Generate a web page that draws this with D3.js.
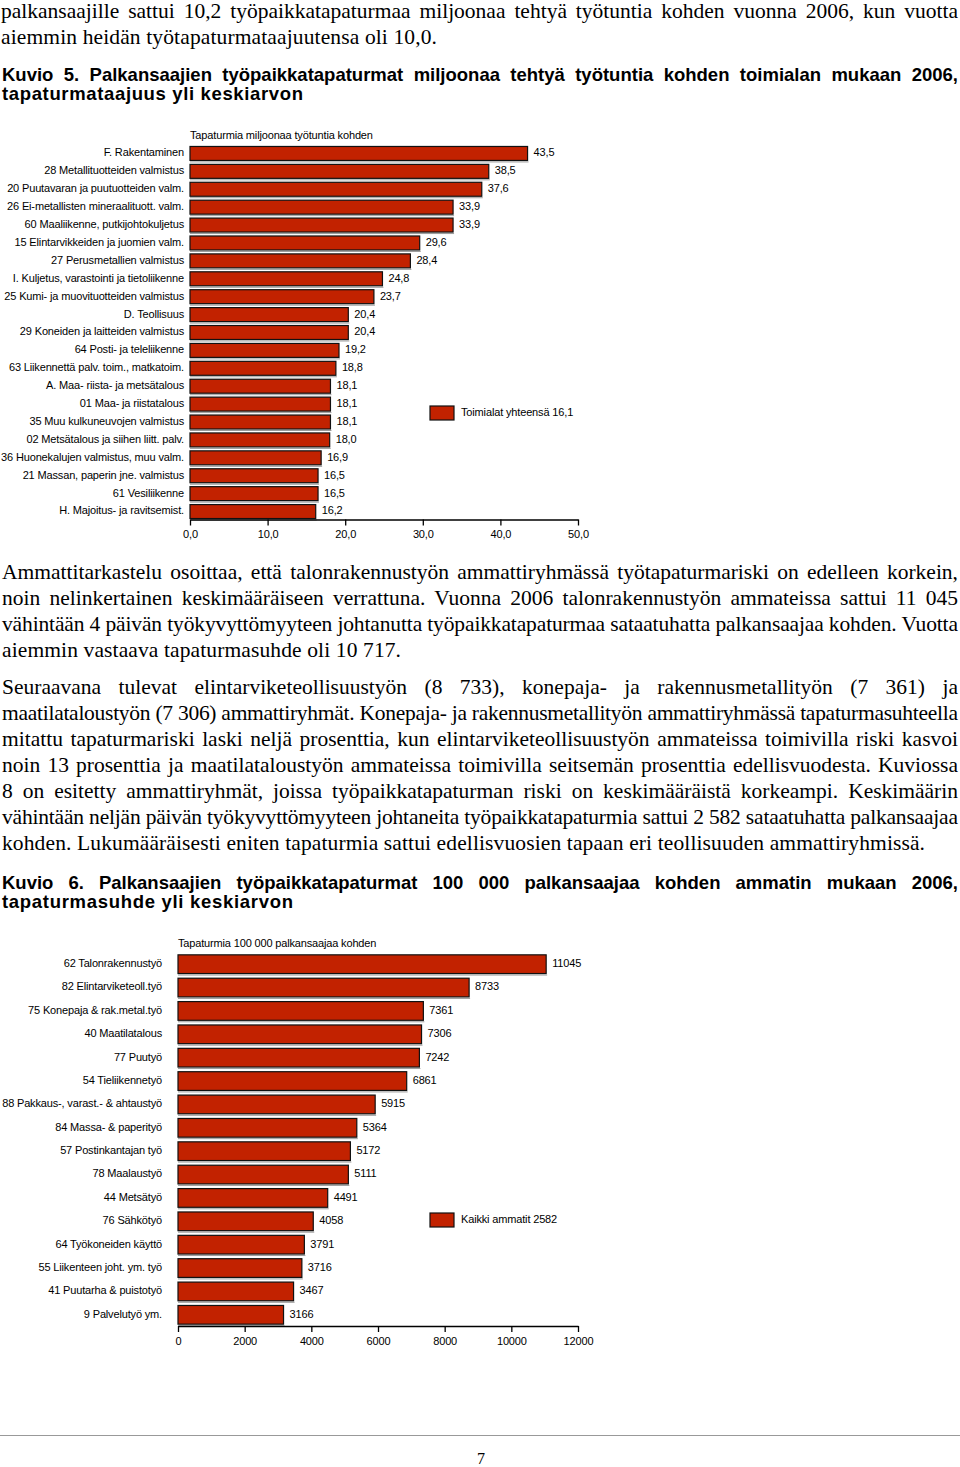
<!DOCTYPE html>
<html><head><meta charset="utf-8">
<script src="https://cdn.jsdelivr.net/npm/d3@7"></script>
<style>html,body{margin:0;padding:0;background:#fff;}svg{display:block;}</style>
</head><body>
<script>
// ---------- DATA ----------
const para1 = [
  "palkansaajille sattui 10,2 työpaikkatapaturmaa miljoonaa tehtyä työtuntia kohden vuonna 2006, kun vuotta",
  "aiemmin heidän työtapaturmataajuutensa oli 10,0."
];
const heading1 = [
  "Kuvio 5. Palkansaajien työpaikkatapaturmat miljoonaa tehtyä työtuntia kohden toimialan mukaan 2006,",
  "tapaturmataajuus yli keskiarvon"
];
const para2 = [
  "Ammattitarkastelu osoittaa, että talonrakennustyön ammattiryhmässä työtapaturmariski on edelleen korkein,",
  "noin nelinkertainen keskimääräiseen verrattuna. Vuonna 2006 talonrakennustyön ammateissa sattui 11 045",
  "vähintään 4 päivän työkyvyttömyyteen johtanutta työpaikkatapaturmaa sataatuhatta palkansaajaa kohden. Vuotta",
  "aiemmin vastaava tapaturmasuhde oli 10 717."
];
const para3 = [
  "Seuraavana tulevat elintarviketeollisuustyön (8 733), konepaja- ja rakennusmetallityön (7 361) ja",
  "maatilataloustyön (7 306) ammattiryhmät. Konepaja- ja rakennusmetallityön ammattiryhmässä tapaturmasuhteella",
  "mitattu tapaturmariski laski neljä prosenttia, kun elintarviketeollisuustyön ammateissa toimivilla riski kasvoi",
  "noin 13 prosenttia ja maatilataloustyön ammateissa toimivilla seitsemän prosenttia edellisvuodesta. Kuviossa",
  "8 on esitetty ammattiryhmät, joissa työpaikkatapaturman riski on keskimääräistä korkeampi. Keskimäärin",
  "vähintään neljän päivän työkyvyttömyyteen johtaneita työpaikkatapaturmia sattui 2 582 sataatuhatta palkansaajaa",
  "kohden. Lukumääräisesti eniten tapaturmia sattui edellisvuosien tapaan eri teollisuuden ammattiryhmissä."
];
const heading2 = [
  "Kuvio 6. Palkansaajien työpaikkatapaturmat 100 000 palkansaajaa kohden ammatin mukaan 2006,",
  "tapaturmasuhde yli keskiarvon"
];
const pageNumber = "7";

const title1 = "Tapaturmia miljoonaa työtuntia kohden";
const cats1 = ["F. Rakentaminen","28 Metallituotteiden valmistus","20 Puutavaran ja puutuotteiden valm.",
  "26 Ei-metallisten mineraalituott. valm.","60 Maaliikenne, putkijohtokuljetus","15 Elintarvikkeiden ja juomien valm.",
  "27 Perusmetallien valmistus","I. Kuljetus, varastointi ja tietoliikenne","25 Kumi- ja muovituotteiden valmistus",
  "D. Teollisuus","29 Koneiden ja laitteiden valmistus","64 Posti- ja teleliikenne","63 Liikennettä palv. toim., matkatoim.",
  "A. Maa- riista- ja metsätalous","01 Maa- ja riistatalous","35 Muu kulkuneuvojen valmistus",
  "02 Metsätalous ja siihen liitt. palv.","36 Huonekalujen valmistus, muu valm.","21 Massan, paperin jne. valmistus",
  "61 Vesiliikenne","H. Majoitus- ja ravitsemist."];
const vals1 = [43.5,38.5,37.6,33.9,33.9,29.6,28.4,24.8,23.7,20.4,20.4,19.2,18.8,18.1,18.1,18.1,18.0,16.9,16.5,16.5,16.2];
const ticks1 = [0,10,20,30,40,50];
const legend1 = "Toimialat yhteensä 16,1";

const title2 = "Tapaturmia 100 000 palkansaajaa kohden";
const cats2 = ["62 Talonrakennustyö","82 Elintarviketeoll.työ","75 Konepaja & rak.metal.työ","40 Maatilatalous",
  "77 Puutyö","54 Tieliikennetyö","88 Pakkaus-, varast.- & ahtaustyö","84 Massa- & paperityö","57 Postinkantajan työ",
  "78 Maalaustyö","44 Metsätyö","76 Sähkötyö","64 Työkoneiden käyttö","55 Liikenteen joht. ym. työ",
  "41 Puutarha & puistotyö","9 Palvelutyö ym."];
const vals2 = [11045,8733,7361,7306,7242,6861,5915,5364,5172,5111,4491,4058,3791,3716,3467,3166];
const ticks2 = [0,2000,4000,6000,8000,10000,12000];
const legend2 = "Kaikki ammatit 2582";

// ---------- RENDER ----------
const svg = d3.select("body").append("svg").attr("width",960).attr("height",1467);
const fiLocale = d3.formatLocale({decimal:",", thousands:"", grouping:[3], currency:["","€"]});
const fmt1 = fiLocale.format(".1f");
const fmt2 = fiLocale.format("d");

function fitText(t, width, justify){
  const node = t.node();
  const str = node.textContent;
  const L = node.getComputedTextLength();
  const spaces = (str.match(/ /g)||[]).length;
  if (justify && L < width && spaces>0){
    t.attr("word-spacing", (width-L)/spaces);
  } else {
    t.attr("letter-spacing", (width-L)/Math.max(1,str.length-1));
  }
}

function drawLines(lines, x, y0, lh, font, size, weight, lastWidth, justifyAll){
  lines.forEach((s,i)=>{
    const t = svg.append("text").attr("x",x).attr("y",y0+i*lh)
      .attr("font-family",font).attr("font-size",size).attr("font-weight",weight)
      .attr("fill","#000").text(s);
    const last = i===lines.length-1;
    if (!last || justifyAll) fitText(t, 958-x, true);
    else fitText(t, lastWidth, false);
  });
}

const SERIF = "'Liberation Serif','Times New Roman',serif";
const SANS = "'Liberation Sans',Arial,sans-serif";
const BODY = 21.5;

drawLines(para1, 1, 18, 26, SERIF, BODY, "normal", 436);
drawLines(heading1, 2, 81, 19, SANS, 18.5, "bold", 301);
drawLines(para2, 2, 579, 26, SERIF, BODY, "normal", 399);
drawLines(para3, 2, 694, 26, SERIF, BODY, "normal", 923);
drawLines(heading2, 2, 889, 19, SANS, 18.5, "bold", 291);

const RED = "#c22200";

function barChart(cfg){
  const g = svg.append("g");
  const x = d3.scaleLinear().domain([cfg.ticks[0], cfg.ticks[cfg.ticks.length-1]]).range([cfg.x0, cfg.x1]);
  const y = d3.scaleBand().domain(cfg.cats).range([cfg.top, cfg.bottom]).paddingInner(cfg.pad).paddingOuter(cfg.pad/2);
  const bh = y.bandwidth();
  const FS = cfg.fs;

  const probe = g.append("text").attr("font-family",SANS).attr("font-size",FS).text(cfg.probeText);
  const pl = probe.node().getComputedTextLength();
  const ls = (cfg.probeWidth - pl)/(cfg.probeText.length-1);
  probe.remove();

  g.append("text").attr("x",cfg.x0).attr("y",cfg.titleY).attr("font-family",SANS).attr("font-size",FS)
    .attr("letter-spacing",ls).attr("dominant-baseline","middle").text(cfg.title);

  g.selectAll("line.sh").data(cfg.cats).join("line").attr("class","sh")
    .attr("x1",x(0)).attr("x2",(d,i)=>x(cfg.vals[i])+1)
    .attr("y1",d=>y(d)+bh+1.5).attr("y2",d=>y(d)+bh+1.5)
    .attr("stroke","#9a9a9a").attr("stroke-width",1);
  g.selectAll("rect.bar").data(cfg.cats).join("rect").attr("class","bar")
    .attr("x",x(0)).attr("y",d=>y(d)).attr("width",(d,i)=>x(cfg.vals[i])-x(0)).attr("height",bh)
    .attr("fill",RED).attr("stroke","#111").attr("stroke-width",1.2);
  g.selectAll("text.cat").data(cfg.cats).join("text").attr("class","cat")
    .attr("x",cfg.labelX).attr("y",d=>y(d)+bh/2).attr("text-anchor","end").attr("dominant-baseline","middle")
    .attr("font-family",SANS).attr("font-size",FS).attr("letter-spacing",ls).text(d=>d);
  g.selectAll("text.val").data(cfg.cats).join("text").attr("class","val")
    .attr("x",(d,i)=>x(cfg.vals[i])+6).attr("y",d=>y(d)+bh/2).attr("dominant-baseline","middle")
    .attr("font-family",SANS).attr("font-size",FS).attr("letter-spacing",ls).text((d,i)=>cfg.fmt(cfg.vals[i]));

  const ax = g.append("g").attr("transform",`translate(0,${cfg.axisY})`)
    .call(d3.axisBottom(x).tickValues(cfg.ticks).tickSize(6).tickSizeOuter(0).tickPadding(5).tickFormat(cfg.fmt));
  ax.select(".domain").attr("stroke","#000").attr("stroke-width",1.5);
  ax.selectAll(".tick line").attr("stroke","#000").attr("stroke-width",1.3);
  ax.selectAll(".tick text").attr("font-family",SANS).attr("font-size",FS).attr("letter-spacing",ls).attr("fill","#000");

  g.append("rect").attr("x",430).attr("y",cfg.legY-7).attr("width",24).attr("height",14)
    .attr("fill",RED).attr("stroke","#111").attr("stroke-width",1.2);
  g.append("text").attr("x",461).attr("y",cfg.legY).attr("dominant-baseline","middle")
    .attr("font-family",SANS).attr("font-size",FS).attr("letter-spacing",ls).text(cfg.legend);
}

barChart({cats:cats1, vals:vals1, ticks:ticks1, fmt:fmt1, x0:190, x1:578, top:144.5, bottom:520.5, pad:0.22,
  axisY:519.5, labelX:184, titleY:136, title:title1, legend:legend1, legY:413, fs:11,
  probeText:"20 Puutavaran ja puutuotteiden valm.", probeWidth:177});
barChart({cats:cats2, vals:vals2, ticks:ticks2, fmt:fmt2, x0:178, x1:578, top:952.5, bottom:1326.5, pad:0.2,
  axisY:1326, labelX:162, titleY:944, title:title2, legend:legend2, legY:1220, fs:11,
  probeText:"88 Pakkaus-, varast.- & ahtaustyö", probeWidth:160});

svg.append("line").attr("x1",0).attr("x2",960).attr("y1",1435.5).attr("y2",1435.5).attr("stroke","#999").attr("stroke-width",1);
svg.append("text").attr("x",481).attr("y",1464).attr("text-anchor","middle").attr("font-family",SERIF)
  .attr("font-size",16).text(pageNumber);
</script>
</body></html>
